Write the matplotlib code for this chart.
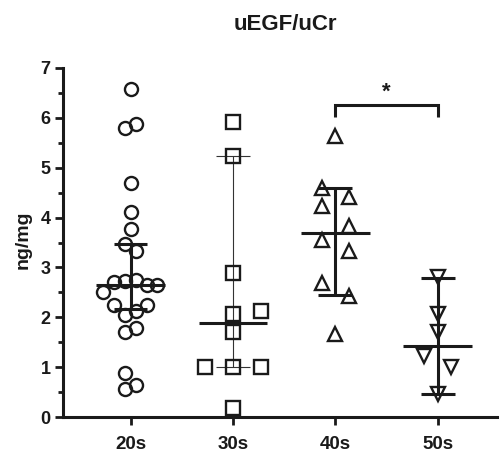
import matplotlib
matplotlib.use("Agg")
import matplotlib.pyplot as plt
import numpy as np

plt.rcParams['font.family'] = ['Liberation Sans', 'DejaVu Sans']
plt.rcParams['font.weight'] = 'bold'

# ---- data ----
categories = ["20s", "30s", "40s", "50s"]
title = "uEGF/uCr"
ylabel = "ng/mg"

vals_20s = [6.57, 5.87, 5.79, 4.70, 4.11, 3.77, 3.46, 3.33,
            2.71, 2.72, 2.74, 2.64, 2.64, 2.50, 2.24, 2.24,
            2.04, 2.12, 1.78, 1.70, 0.89, 0.64, 0.57]
vals_30s = [5.92, 5.23, 2.88, 2.06, 2.13, 1.70, 1.00, 1.00, 1.00, 0.19]
vals_40s = [5.63, 4.60, 4.41, 4.23, 3.83, 3.55, 3.33, 2.69, 2.42, 1.66]
vals_50s = [2.80, 2.06, 1.71, 1.22, 1.00, 0.47]

medians = [2.64, 1.88, 3.70, 1.42]
err_low = [2.16, 1.00, 2.44, 0.47]
err_high = [3.47, 5.23, 4.60, 2.78]

sig_pair = (2, 3)
sig_label = "*"

# jitter offsets (horizontal scatter of points, in category units)
jit_20s = [0, 0.05, -0.05, 0, 0, 0, -0.05, 0.05,
           -0.16, -0.05, 0.05, 0.16, 0.26, -0.27, -0.16, 0.16,
           -0.05, 0.05, 0.05, -0.05, -0.05, 0.05, -0.05]
jit_30s = [0, 0, 0, 0, 0.27, 0, -0.27, 0, 0.27, 0]
jit_40s = [0, -0.13, 0.13, -0.13, 0.13, -0.13, 0.13, -0.13, 0.13, 0]
jit_50s = [0, 0, 0, -0.13, 0.13, 0]

# ---- figure ----
fig = plt.figure(figsize=(5.02, 4.55), dpi=100)
ax = fig.add_axes([63/502, 38/455, (497-63)/502, (417-68)/455])

ink = '#1a1a1a'
groups = [vals_20s, vals_30s, vals_40s, vals_50s]
jits = [jit_20s, jit_30s, jit_40s, jit_50s]
markers = ['o', 's', '^', 'v']
msizes = [9.4, 9.6, 10.2, 10.2]

for i, (vals, jit, m, ms) in enumerate(zip(groups, jits, markers, msizes)):
    x = i + np.array(jit)
    ax.plot(x, vals, linestyle='none', marker=m, markersize=ms,
            markerfacecolor='none', markeredgecolor=ink, markeredgewidth=1.7,
            zorder=3)

for i in range(len(categories)):
    thin = (i == 1)
    lw_err = 0.8 if thin else 2.2
    col_err = '#333333' if thin else ink
    ax.plot([i, i], [err_low[i], err_high[i]], color=col_err, lw=lw_err,
            solid_capstyle='butt', zorder=2)
    for yv in (err_low[i], err_high[i]):
        ax.plot([i - 0.165, i + 0.165], [yv, yv], color=col_err, lw=lw_err,
                solid_capstyle='butt', zorder=2)
    ax.plot([i - 0.335, i + 0.335], [medians[i], medians[i]], color=ink,
            lw=2.2, solid_capstyle='butt', zorder=2)

# significance bracket
a, b = sig_pair
ax.plot([a, a, b, b], [6.02, 6.25, 6.25, 6.02], color=ink, lw=2.2,
        solid_capstyle='butt', solid_joinstyle='miter', clip_on=False)
ax.text((a + b) / 2, 6.30, sig_label, ha='center', va='bottom',
        fontsize=16, fontweight='bold', color=ink)

ax.set_xlim(-0.66, 3.58)
ax.set_ylim(0, 7)
ax.set_xticks(range(len(categories)))
ax.set_xticklabels(categories)
ax.set_yticks(range(0, 8))
ax.set_yticks(np.arange(0.5, 7, 1.0), minor=True)

for s in ['top', 'right']:
    ax.spines[s].set_visible(False)
for s in ['left', 'bottom']:
    ax.spines[s].set_linewidth(2.2)
    ax.spines[s].set_color(ink)

ax.tick_params(axis='both', which='major', direction='out', length=6,
               width=2.0, color=ink, labelcolor=ink)
ax.tick_params(axis='y', which='major', pad=3, labelsize=13)
ax.tick_params(axis='x', which='major', pad=8, labelsize=13.5)
ax.tick_params(axis='y', which='minor', direction='out', length=3.5,
               width=2.0, color=ink)
for lab in ax.get_xticklabels() + ax.get_yticklabels():
    lab.set_fontweight('bold')

fig.text(285/502, 1 - 25/455, title, ha='center', va='center',
         fontsize=16, fontweight='bold', color=ink)
fig.text(23/502, 1 - 240/455, ylabel, ha='center', va='center',
         rotation=90, fontsize=14, fontweight='bold', color=ink)

fig.savefig("out.png", dpi=100)
